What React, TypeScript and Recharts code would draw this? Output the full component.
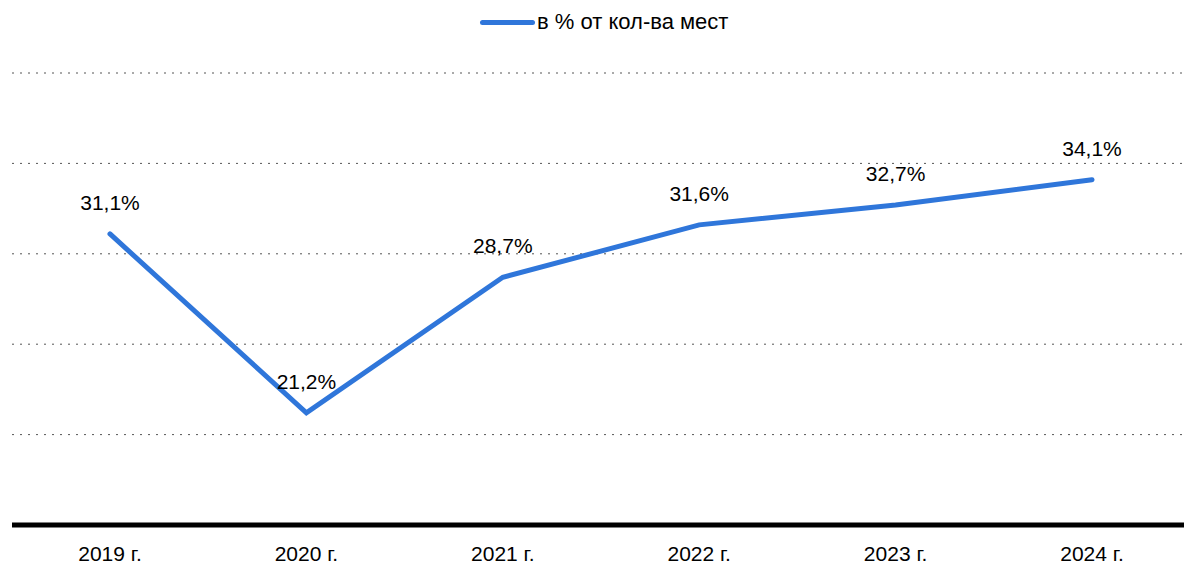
import { LineChart, Line, XAxis, YAxis, CartesianGrid, Legend, LabelList } from "recharts";

const years = ["2019 г.", "2020 г.", "2021 г.", "2022 г.", "2023 г.", "2024 г."];
const share = [31.1, 21.2, 28.7, 31.6, 32.7, 34.1];
const yTicks = [15, 20, 25, 30, 35, 40];
const seriesName = "в % от кол-ва мест";

const data = years.map((year, i) => ({ year, share: share[i] }));

const FONT = '"Liberation Sans", Arial, sans-serif';
const BLUE = "#2F76DA";

function LegendBox() {
  return (
    <div
      style={{
        position: "absolute",
        left: 480,
        top: 0,
        height: 28,
        display: "flex",
        alignItems: "center",
        fontFamily: FONT,
        fontSize: 22,
        color: "#000",
        whiteSpace: "nowrap",
      }}
    >
      <span
        style={{
          display: "inline-block",
          width: 55,
          height: 5,
          borderRadius: 3,
          background: BLUE,
          marginRight: 2,
        }}
      />
      <span>{seriesName}</span>
    </div>
  );
}

export default function App() {
  return (
    <div
      style={{
        position: "absolute",
        left: 0,
        top: 0,
        width: 1184,
        height: 568,
        overflow: "hidden",
        background: "#fff",
      }}
    >
      <LineChart
        width={1190}
        height={568}
        data={data}
        margin={{ top: 73, right: 0, left: 12, bottom: 0 }}
      >
        <CartesianGrid vertical={false} stroke="#555" strokeDasharray="2 6" />
        <XAxis
          dataKey="year"
          height={43}
          padding={{ left: 98, right: 98 }}
          tickLine={false}
          axisLine={{ stroke: "#000", strokeWidth: 5 }}
          tick={{ fontSize: 21, fill: "#000", fontFamily: FONT }}
          tickMargin={15}
          interval={0}
        />
        <YAxis hide domain={[15, 40]} ticks={yTicks} />
        <Legend
          verticalAlign="top"
          height={0}
          content={() => <LegendBox />}
          wrapperStyle={{ top: 8, left: 0, width: 1190, height: 0 }}
        />
        <Line
          type="linear"
          dataKey="share"
          name={seriesName}
          stroke={BLUE}
          strokeWidth={5}
          strokeLinecap="round"
          dot={false}
          activeDot={false}
          isAnimationActive={false}
        >
          <LabelList
            dataKey="share"
            position="top"
            offset={24}
            formatter={(v: number) => `${v.toFixed(1).replace(".", ",")}%`}
            style={{ fontSize: 21, fill: "#000", fontFamily: FONT }}
          />
        </Line>
      </LineChart>
    </div>
  );
}
